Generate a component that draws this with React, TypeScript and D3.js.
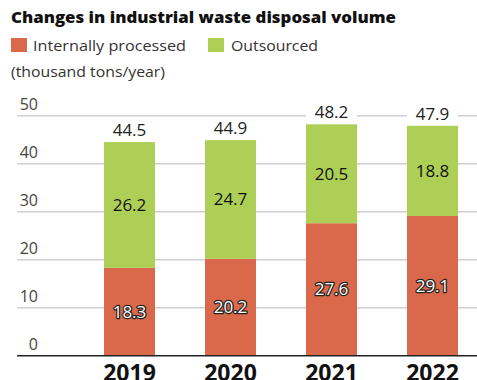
import React from "react";
import * as d3 from "d3";

const years = ["2019", "2020", "2021", "2022"];
const internal = [18.3, 20.2, 27.6, 29.1];
const outsourced = [26.2, 24.7, 20.5, 18.8];
const totals = [44.5, 44.9, 48.2, 47.9];
const yTicks = [0, 10, 20, 30, 40, 50];

const ORANGE = "#D9694A";
const GREEN = "#ADCF55";
const FONT = "'Open Sans', sans-serif";

export default function App() {
  const W = 477, H = 380;
  const xs = d3.scalePoint<string>().domain(years).range([129.5, 432.5]);
  const y = d3.scaleLinear().domain([0, 50]).range([355.7, 115.7]);
  const bw = 51;
  return (
    <svg width={W} height={H} style={{ position: "absolute", left: 0, top: 0, background: "#fff" }} fontFamily={FONT}>
      <text x={11} y={23} fontSize={16.5} fontWeight={800} fill="#111" textLength={385} lengthAdjust="spacingAndGlyphs">Changes in industrial waste disposal volume</text>
      <rect x={11} y={38} width={16} height={14} fill={ORANGE} />
      <text x={33} y={50.5} fontSize={15} fill="#333" textLength={153} lengthAdjust="spacingAndGlyphs">Internally processed</text>
      <rect x={208} y={38} width={16} height={14} fill={GREEN} />
      <text x={231} y={50.5} fontSize={15} fill="#333" textLength={87} lengthAdjust="spacingAndGlyphs">Outsourced</text>
      <text x={11} y={76.5} fontSize={14} fill="#333" textLength={154} lengthAdjust="spacingAndGlyphs">(thousand tons/year)</text>
      {yTicks.map((t) => (
        <g key={t}>
          {t > 0 && <line x1={17} x2={477} y1={y(t)} y2={y(t)} stroke="#cfcfd3" strokeWidth={1.5} />}
          <text x={38} y={y(t) - 6} fontSize={16} fill="#444" textAnchor="end">{t}</text>
        </g>
      ))}
      {years.map((yr, i) => {
        const c = xs(yr)!;
        const x0 = c - bw / 2;
        const topY = y(totals[i]);
        const midI = (y(0) + y(internal[i])) / 2;
        const midO = (y(internal[i]) + y(totals[i])) / 2;
        return (
          <g key={yr}>
            <rect x={x0} y={y(internal[i])} width={bw} height={y(0) - y(internal[i])} fill={ORANGE} />
            <rect x={x0} y={topY} width={bw} height={y(internal[i]) - topY} fill={GREEN} />
            <rect x={x0} y={topY - 23} width={bw} height={22} fill="#fff" />
            <text x={c} y={topY - 6} fontSize={17} fill="#222" textAnchor="middle">{totals[i].toFixed(1)}</text>
            <text x={c} y={midO + 6} fontSize={17} fill="#111" textAnchor="middle">{outsourced[i].toFixed(1)}</text>
            <text x={c} y={midI + 6} fontSize={17} fill="#fff" stroke="#222" strokeWidth={2.5} paintOrder="stroke" strokeLinejoin="round" textAnchor="middle">{internal[i].toFixed(1)}</text>
            <text x={c} y={381} fontSize={23} fontWeight={700} fill="#111" textAnchor="middle">{yr}</text>
          </g>
        );
      })}
      <line x1={17} x2={477} y1={y(0)} y2={y(0)} stroke="#222" strokeWidth={1.5} />
    </svg>
  );
}
